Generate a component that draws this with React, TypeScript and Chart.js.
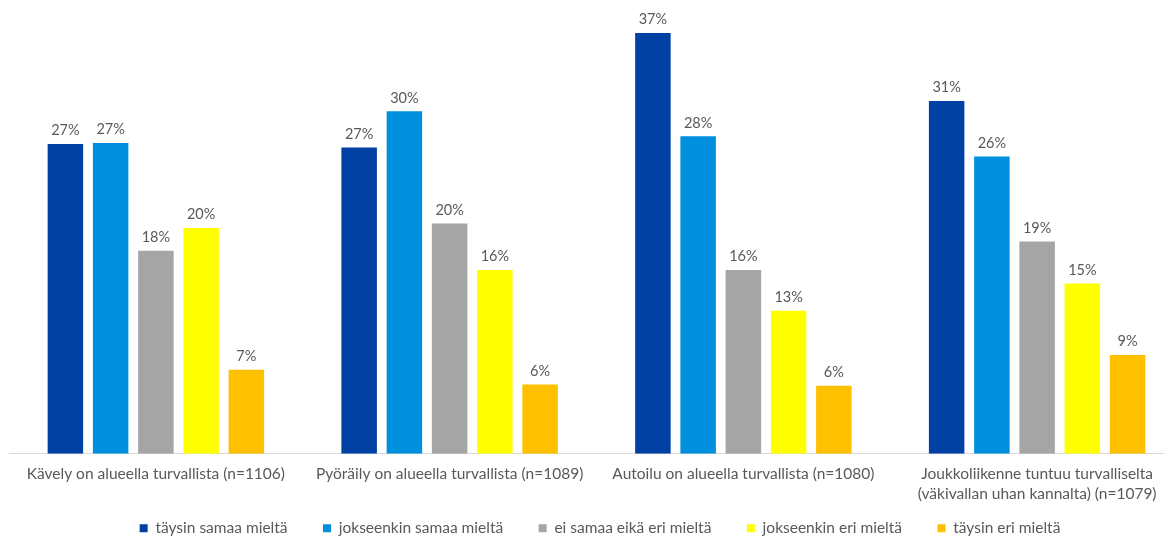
import React, { useEffect, useRef } from "react";
import { Chart, registerables } from "chart.js";

Chart.register(...registerables);

const categories: (string | string[])[] = [
  "Kävely on alueella turvallista (n=1106)",
  "Pyöräily on alueella turvallista (n=1089)",
  "Autoilu on alueella turvallista (n=1080)",
  ["Joukkoliikenne tuntuu turvalliselta", "(väkivallan uhan kannalta) (n=1079)"],
];

const seriesNames = [
  "täysin samaa mieltä",
  "jokseenkin samaa mieltä",
  "ei samaa eikä eri mieltä",
  "jokseenkin eri mieltä",
  "täysin eri mieltä",
];

const taysinSamaa = [27.3, 27.0, 37.1, 31.1];
const jokseenkinSamaa = [27.4, 30.2, 28.0, 26.2];
const eiSamaaEikaEri = [17.9, 20.3, 16.2, 18.7];
const jokseenkinEri = [19.9, 16.2, 12.6, 15.0];
const taysinEri = [7.4, 6.1, 6.0, 8.7];

const seriesValues = [taysinSamaa, jokseenkinSamaa, eiSamaaEikaEri, jokseenkinEri, taysinEri];
const seriesColors = ["#0041A3", "#0090DE", "#A5A5A5", "#FFFF00", "#FFC000"];

const FONT = "Lato, 'Open Sans', sans-serif";
const TEXT = "#595959";

// Draw value labels above each bar
const valueLabels = {
  id: "valueLabels",
  afterDatasetsDraw(chart: any) {
    const ctx = chart.ctx;
    ctx.save();
    ctx.font = `14.5px ${FONT}`;
    ctx.fillStyle = TEXT;
    ctx.textAlign = "center";
    ctx.textBaseline = "bottom";
    chart.data.datasets.forEach((ds: any, i: number) => {
      const meta = chart.getDatasetMeta(i);
      meta.data.forEach((bar: any, j: number) => {
        const v = ds.data[j];
        ctx.fillText(`${Math.round(v)}%`, bar.x, bar.y - 6);
      });
    });
    ctx.restore();
  },
};

// Let the two-line category labels extend past the (compact) x-axis box
const unclipXLabels = {
  id: "unclipXLabels",
  beforeDraw(chart: any) {
    const x = chart.scales.x;
    if (x) x._computeLabelArea = () => undefined;
  },
};

export default function App() {
  const ref = useRef<HTMLCanvasElement>(null);

  useEffect(() => {
    if (!ref.current) return;
    const chart = new Chart(ref.current, {
      type: "bar",
      data: {
        labels: categories,
        datasets: seriesNames.map((name, i) => ({
          label: name,
          data: seriesValues[i],
          backgroundColor: seriesColors[i],
          borderWidth: 0,
          categoryPercentage: 0.77,
          barPercentage: 0.785,
        })),
      },
      options: {
        animation: false,
        responsive: false,
        devicePixelRatio: 1,
        layout: { padding: { top: 0, left: 9, right: 0, bottom: 0 } },
        scales: {
          x: {
            grid: { display: false, drawTicks: false },
            border: { display: true, color: "#D9D9D9", width: 1 },
            ticks: {
              color: TEXT,
              font: { family: FONT, size: 15.5, lineHeight: 1.3 },
              padding: 10,
              maxRotation: 0,
              autoSkip: false,
            },
            afterFit: (s: any) => {
              s.height = 31.25;
            },
          },
          y: {
            position: "right",
            min: 0,
            max: 40,
            grid: { display: false, drawTicks: false },
            border: { display: false },
            ticks: { display: false },
            afterFit: (s: any) => {
              s.width = 7;
            },
          },
        },
        plugins: {
          legend: {
            position: "bottom",
            labels: {
              boxWidth: 8,
              boxHeight: 8,
              padding: 35.5,
              color: TEXT,
              font: { family: FONT, size: 15.5 },
            },
          },
          tooltip: { enabled: false },
        },
      },
      plugins: [valueLabels, unclipXLabels],
    });
    return () => chart.destroy();
  }, []);

  return (
    <div
      style={{
        position: "fixed",
        left: 0,
        top: 0,
        width: 1164,
        height: 538,
        overflow: "hidden",
        background: "#fff",
      }}
    >
      <canvas
        ref={ref}
        width={1191}
        height={546}
        style={{ position: "absolute", left: 0, top: 0, width: 1191, height: 546 }}
      />
    </div>
  );
}
